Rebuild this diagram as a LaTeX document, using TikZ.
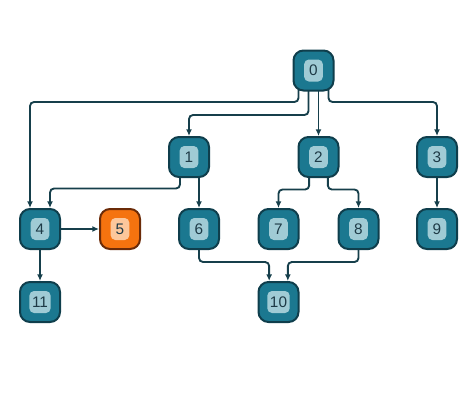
\documentclass[tikz,border=0pt]{standalone}
\usepackage{fontspec}
\setmainfont{Liberation Sans}
\usetikzlibrary{arrows.meta,backgrounds}
\definecolor{vfill}{HTML}{1B7890}
\definecolor{vborder}{HTML}{0F3E4C}
\definecolor{vlight}{HTML}{A0CBD5}
\definecolor{vtext}{HTML}{1E3A46}
\definecolor{hfill}{HTML}{F5730F}
\definecolor{hborder}{HTML}{6B2B08}
\definecolor{hlight}{HTML}{FCC79B}
\definecolor{ecolor}{HTML}{163F4B}

\begin{document}
\begin{tikzpicture}[x=0.75pt,y=-0.75pt]
    \tikzset{box/.style = {line width=1.5pt,rounded corners=7.5pt,minimum size=30pt,inner sep=0pt}}
    \tikzset{badge/.style = {fill=vlight,rounded corners=3.5pt,minimum width=14pt,minimum height=16.5pt,inner sep=2pt,text=vtext,font=\fontsize{11.5}{13}\selectfont}}
    \tikzset{vertex/.style = {box,draw=vborder,fill=vfill,label={[badge]center:#1}}}
    \tikzset{hot/.style = {box,draw=hborder,fill=hfill,label={[badge,fill=hlight]center:#1}}}
    \tikzset{edge/.style = {-{Latex[length=5pt,width=4.5pt]},draw=ecolor,line width=1.4pt,rounded corners=3pt}}
    \useasboundingbox (0,0) rectangle (460,400);
    % vertices
    \node[vertex=0] (0) at (313.5,70.5) {};
    \node[vertex=1] (1) at (189,157) {};
    \node[vertex=2] (2) at (318.5,157) {};
    \node[vertex=3] (3) at (437,157) {};
    \node[vertex=4] (4) at (40,229) {};
    \node[hot=5] (5) at (120,229) {};
    \node[vertex=6] (6) at (199,229) {};
    \node[vertex=7] (7) at (278.5,229) {};
    \node[vertex=8] (8) at (358.5,229) {};
    \node[vertex=9] (9) at (437,229) {};
    \node[vertex=10] (10) at (278.5,302) {};
    \node[vertex=11] (11) at (40,302) {};
    %edges
    \begin{scope}[on background layer]
    \draw[edge] ([xshift=-11.25pt]0.center) -- ++(0,31.5) -| ([xshift=-7.5pt]4.north);
    \draw[edge] ([xshift=-3.75pt]0.center) -- ++(0,44.5) -| (1.north);
    \draw[edge] (0.center -| 2.north) -- (2.north);
    \draw[edge] ([xshift=11.25pt]0.center) -- ++(0,31.5) -| (3.north);
    \draw[edge] ([xshift=-6.75pt]1.center) -- ++(0,31.5) -| ([xshift=7.5pt]4.north);
    \draw[edge] (1.center -| 6.north) -- (6.north);
    \draw[edge] ([xshift=-7pt]2.center) -- ++(0,32.5) -| (7.north);
    \draw[edge] ([xshift=7pt]2.center) -- ++(0,32.5) -| (8.north);
    \draw[edge] (3) -- (9);
    \draw[edge] (4) -- (5);
    \draw[edge] (4) -- (11);
    \draw[edge] (6.center) -- ++(0,33) -| ([xshift=-7pt]10.north);
    \draw[edge] (8.center) -- ++(0,33) -| ([xshift=7pt]10.north);
    \end{scope}
\end{tikzpicture}
\end{document}
